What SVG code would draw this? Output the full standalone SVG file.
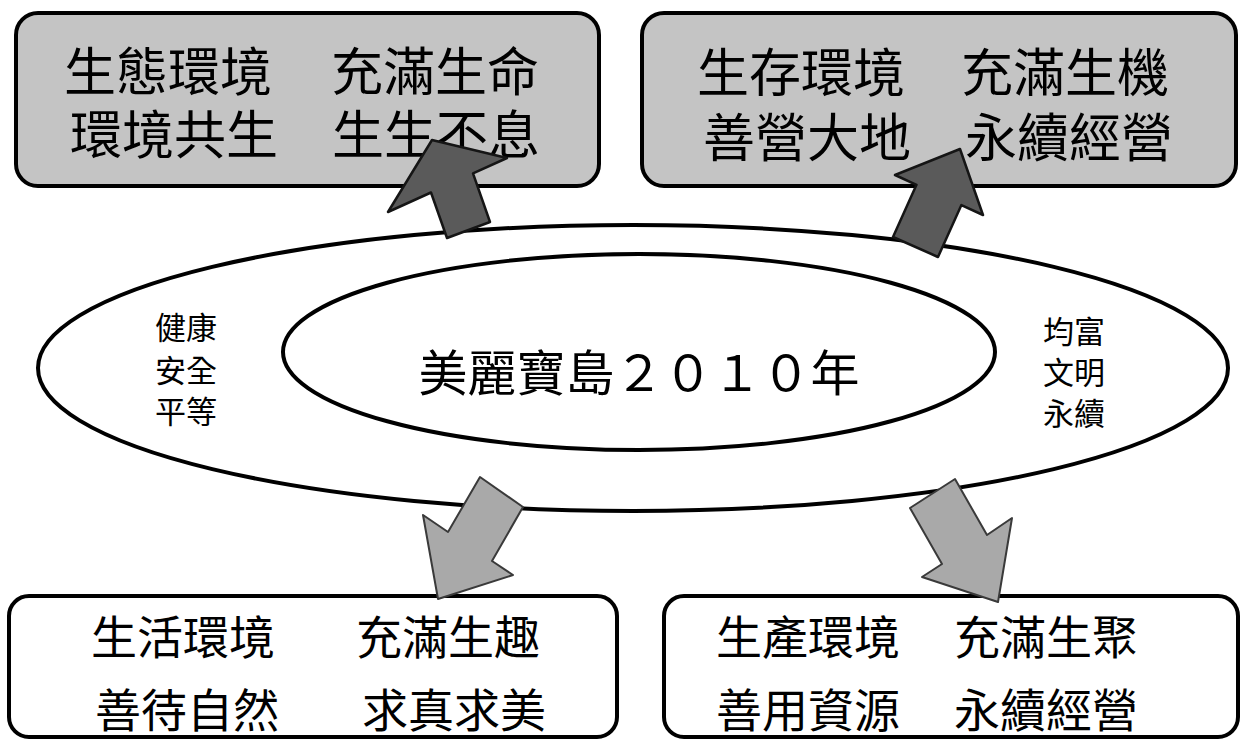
<svg xmlns="http://www.w3.org/2000/svg" width="1248" height="741" viewBox="0 0 1248 741">
<style>
.box{stroke:#000;stroke-width:4}
.gray{fill:#c4c4c4}
.white{fill:#fff}
.ell{fill:#fff;stroke:#000;stroke-width:4}
.t{font-family:"Liberation Sans","Noto Sans CJK TC","Noto Sans CJK SC",sans-serif;fill:#000}
.big{font-size:52px}
.mid{font-size:46px}
.ctr{font-size:49px}
.sm{font-size:31px}
.up{fill:#5a5a5a;stroke:#151515;stroke-width:2.5;stroke-linejoin:round}
.down{fill:#a9a9a9;stroke:#3a3a3a;stroke-width:2;stroke-linejoin:round}
</style>
<rect width="1248" height="741" fill="#fff"/>
<g id="hub">
<ellipse class="ell" cx="633" cy="368" rx="595" ry="143"/>
<ellipse class="ell" cx="639" cy="352" rx="356" ry="98"/>
<text class="t ctr" x="639" y="391" text-anchor="middle">美麗寶島２０１０年</text>
<text class="t sm" text-anchor="middle"><tspan x="186" y="339">健康</tspan><tspan x="186" y="382">安全</tspan><tspan x="186" y="423">平等</tspan></text>
<text class="t sm" text-anchor="middle"><tspan x="1074" y="343">均富</tspan><tspan x="1074" y="384">文明</tspan><tspan x="1074" y="425">永續</tspan></text>
</g>
<g id="eco">
<rect class="box gray" x="16" y="13" width="583" height="173" rx="22"/>
<text class="t big"><tspan x="64" y="91">生態環境</tspan><tspan x="331" y="91">充滿生命</tspan><tspan x="70" y="154">環境共生</tspan><tspan x="332" y="154">生生不息</tspan></text>
</g>
<g id="survival">
<rect class="box gray" x="642" y="13" width="594" height="173" rx="22"/>
<text class="t big"><tspan x="697" y="92">生存環境</tspan><tspan x="961" y="92">充滿生機</tspan><tspan x="703" y="157">善營大地</tspan><tspan x="965" y="157">永續經營</tspan></text>
</g>
<g id="life">
<rect class="box white" x="9" y="596" width="608" height="141" rx="20"/>
<text class="t mid"><tspan x="91" y="654">生活環境</tspan><tspan x="356" y="654">充滿生趣</tspan><tspan x="95" y="727">善待自然</tspan><tspan x="362" y="727">求真求美</tspan></text>
</g>
<g id="production">
<rect class="box white" x="664" y="596" width="574" height="141" rx="20"/>
<text class="t mid"><tspan x="716" y="654">生產環境</tspan><tspan x="954" y="654">充滿生聚</tspan><tspan x="716" y="727">善用資源</tspan><tspan x="954" y="727">永續經營</tspan></text>
</g>
<g id="connectors">
<polygon class="up" points="447,238 431,192.5 388,212 432,140 507,158 473,173.4 490,222"/>
<polygon class="up" points="893,237 916.5,184.8 895,175 960,149 983,215 961.4,205.1 938,257"/>
<polygon class="down" points="480,477 523,507 492,561 513,575 438,599 423,515 448,532"/>
<polygon class="down" points="955,479 987,535 1012,518 998,602 922,577 942,564 910,508"/>
</g>
</svg>
